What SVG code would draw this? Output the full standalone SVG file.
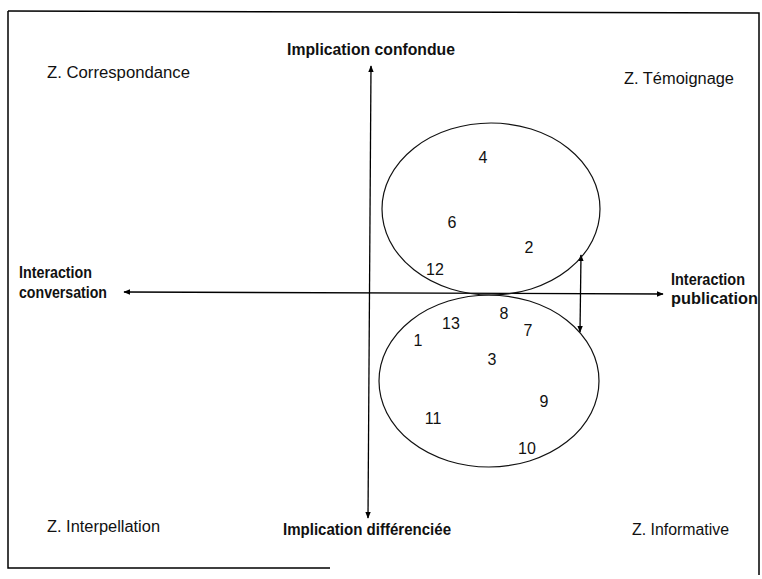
<svg xmlns="http://www.w3.org/2000/svg" width="762" height="579" viewBox="0 0 762 579">
<defs>
<marker id="ah" viewBox="0 0 10 10" refX="9" refY="5" markerWidth="7" markerHeight="7" orient="auto-start-reverse" markerUnits="userSpaceOnUse">
<path d="M0,1 L10,5 L0,9 Z" fill="#000"/>
</marker>
<style>
.t{font-family:"Liberation Sans",Arial,sans-serif;font-size:16px;fill:#111}
.b{font-family:"Liberation Sans",Arial,sans-serif;font-size:16px;font-weight:bold;fill:#111}
.n{font-family:"Liberation Sans",Arial,sans-serif;font-size:16px;fill:#111;text-anchor:middle}
.ax{stroke:#000;stroke-width:1.3;fill:none}
.el{stroke:#111;stroke-width:1.2;fill:none}
</style>
</defs>
<rect width="762" height="579" fill="#fff"/>
<g id="frame" fill="none" stroke="#000" stroke-width="1.5">
<path d="M8,11 L759,13 L759,575"/>
<path d="M8,11 L8,568 L330,568"/>
</g>
<g id="connectors">
<line class="ax" x1="371" y1="66" x2="368" y2="518" marker-start="url(#ah)" marker-end="url(#ah)"/>
<line class="ax" x1="124" y1="292" x2="663" y2="294" marker-start="url(#ah)" marker-end="url(#ah)"/>
<line class="ax" x1="581" y1="255" x2="580" y2="332" marker-start="url(#ah)" marker-end="url(#ah)"/>
</g>
<g id="cluster-top">
<ellipse class="el" cx="491" cy="209" rx="109" ry="86"/>
<text class="n" x="483" y="163">4</text>
<text class="n" x="452" y="228">6</text>
<text class="n" x="529" y="253">2</text>
<text class="n" x="435" y="275">12</text>
</g>
<g id="cluster-bottom">
<ellipse class="el" cx="489" cy="381" rx="110" ry="86"/>
<text class="n" x="504" y="319">8</text>
<text class="n" x="451" y="329">13</text>
<text class="n" x="528" y="336">7</text>
<text class="n" x="418" y="346">1</text>
<text class="n" x="492" y="365">3</text>
<text class="n" x="544" y="407">9</text>
<text class="n" x="433" y="424">11</text>
<text class="n" x="527" y="454">10</text>
</g>
<g id="labels">
<text class="b" x="287" y="55" textLength="168" lengthAdjust="spacingAndGlyphs">Implication confondue</text>
<text class="b" x="283" y="535" textLength="168" lengthAdjust="spacingAndGlyphs">Implication différenciée</text>
<text class="b" x="19" y="278" textLength="73" lengthAdjust="spacingAndGlyphs">Interaction</text>
<text class="b" x="19" y="298" textLength="88" lengthAdjust="spacingAndGlyphs">conversation</text>
<text class="b" x="671" y="285" textLength="74" lengthAdjust="spacingAndGlyphs">Interaction</text>
<text class="b" x="671" y="304" textLength="87" lengthAdjust="spacingAndGlyphs">publication</text>
<text class="t" x="47" y="78" textLength="143" lengthAdjust="spacingAndGlyphs">Z. Correspondance</text>
<text class="t" x="624" y="84" textLength="110" lengthAdjust="spacingAndGlyphs">Z. Témoignage</text>
<text class="t" x="47" y="532" textLength="113" lengthAdjust="spacingAndGlyphs">Z. Interpellation</text>
<text class="t" x="632" y="535" textLength="97" lengthAdjust="spacingAndGlyphs">Z. Informative</text>
</g>
</svg>
